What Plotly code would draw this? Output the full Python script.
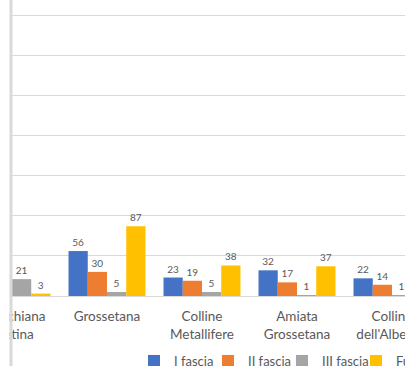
import plotly.graph_objects as go

categories = ["Valdichiana Aretina", "Grossetana", "Colline Metallifere",
              "Amiata Grossetana", "Colline dell'Albegna"]
tick_labels = ["Valdichiana<br>Aretina", "Grossetana", "Colline<br>Metallifere",
               "Amiata<br>Grossetana", "Colline<br>dell'Albegna"]
series_names = ["I fascia", "II fascia", "III fascia", "Fuori fascia"]
fascia_I = [None, 56, 23, 32, 22]
fascia_II = [None, 30, 19, 17, 14]
fascia_III = [21, 5, 5, 1, 1]
fascia_F = [3, 87, 38, 37, None]
colors = ["#4472C4", "#ED7D31", "#A5A5A5", "#FFC000"]

W, H = 405, 366
plot_bottom = 296
text_color = "#595959"
font_family = "Lato, 'Open Sans', sans-serif"

fig = go.Figure()
for name, vals, col in zip(series_names, [fascia_I, fascia_II, fascia_III, fascia_F], colors):
    fig.add_trace(go.Bar(
        x=categories, y=vals, name=name, marker=dict(color=col, line=dict(width=0)),
        text=[("" if v is None else str(v)) for v in vals],
        textposition="outside", textfont=dict(size=10, color=text_color, family=font_family),
        hoverinfo="skip",
    ))

px_per_cat = 95.0
first_center = 12.0
x0 = -first_center / px_per_cat
x1 = x0 + W / px_per_cat

legend_left = 134
fig.update_layout(
    width=W, height=H,
    margin=dict(l=0, r=0, t=0, b=H - plot_bottom, autoexpand=False),
    paper_bgcolor="white", plot_bgcolor="white",
    barmode="group", bargap=0.19, bargroupgap=0,
    font=dict(family=font_family, color=text_color, size=12),
    showlegend=True,
    legend=dict(orientation="h", xref="container", yref="container",
                x=legend_left / W, xanchor="left",
                y=1 - 361 / H, yanchor="middle",
                entrywidth=29, entrywidthmode="pixels",
                font=dict(size=13, color=text_color), bgcolor="rgba(0,0,0,0)"),
)
fig.update_xaxes(
    type="category", categoryorder="array", categoryarray=categories,
    tickmode="array", tickvals=categories, ticktext=tick_labels,
    range=[x0, x1], showgrid=False, showline=True, linecolor="#d9d9d9", linewidth=1,
    ticks="", tickfont=dict(size=13.5, color=text_color), zeroline=False, automargin=False,
    ticklabelstandoff=8,
)
fig.update_yaxes(
    range=[0, 350 * plot_bottom / 281.0], dtick=50, tick0=0,
    showgrid=True, gridcolor="#d9d9d9", gridwidth=1,
    showticklabels=False, zeroline=False, showline=False, ticks="", automargin=False,
)
# frame edge at left and white mask left of it
yb = -(H - plot_bottom) / plot_bottom - 0.05
fig.add_shape(type="rect", xref="paper", yref="paper", x0=-0.01, x1=9.5 / W, y0=yb, y1=1.05,
              fillcolor="white", line=dict(width=0), layer="above")
fig.add_shape(type="line", xref="paper", yref="paper", x0=11 / W, x1=11 / W,
              y0=yb, y1=1.05,
              line=dict(color="#d9d9d9", width=3), layer="above")

fig.write_html("out.html")
